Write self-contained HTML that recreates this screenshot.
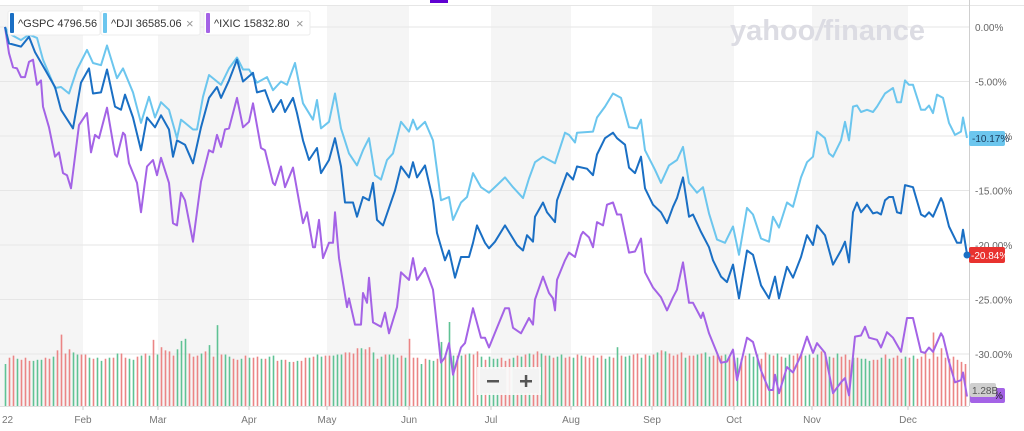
<!DOCTYPE html>
<html><head><meta charset="utf-8"><style>
html,body{margin:0;padding:0;background:#fff;overflow:hidden}
svg{display:block;font-family:"Liberation Sans",sans-serif}
</style></head><body>
<svg id="chart" width="1024" height="431" viewBox="0 0 1024 431" xmlns="http://www.w3.org/2000/svg">
<g id="bands"></g>
<g id="grid"></g>
<text x="730" y="40" font-size="29" font-weight="bold" fill="#dcdce3">yahoo<tspan font-style="italic">/</tspan>finance</text>
<line x1="0" y1="5.5" x2="1024" y2="5.5" stroke="#e6e6e6"/>
<rect x="430" y="0" width="18" height="3" fill="#6001d2"/>
<g id="vol"></g>
<g id="lines"></g>
<line x1="969.5" y1="0" x2="969.5" y2="406" stroke="#cfcfcf"/>
<line x1="0" y1="406.5" x2="969" y2="406.5" stroke="#e0e0e0"/>
<g id="yaxis"></g>
<g id="xaxis"></g>
<g>
 <g>
  <rect x="8" y="11" width="92" height="24" rx="2" fill="#fff" stroke="#ececec"/>
  <rect x="10" y="13" width="4" height="20" rx="1" fill="#1a6fc4"/>
  <text x="18" y="27" font-size="11" fill="#333">^GSPC 4796.56</text>
 </g>
 <g>
  <rect x="101" y="11" width="99" height="24" rx="2" fill="#fff" stroke="#ececec"/>
  <rect x="103" y="13" width="4" height="20" rx="1" fill="#6cc6ee"/>
  <text x="111" y="27" font-size="11" fill="#333">^DJI 36585.06</text>
  <text x="186" y="28" font-size="13" fill="#999">×</text>
 </g>
 <g>
  <rect x="204" y="11" width="106" height="24" rx="2" fill="#fff" stroke="#ececec"/>
  <rect x="206" y="13" width="4" height="20" rx="1" fill="#a463e6"/>
  <text x="214" y="27" font-size="11" fill="#333">^IXIC 15832.80</text>
  <text x="296" y="28" font-size="13" fill="#999">×</text>
 </g>
</g>
<g>
 <rect x="477" y="367" width="64" height="28" fill="#fafafa" opacity="0.9"/>
 <g><rect x="480" y="369" width="26" height="24" fill="#f3f3f3"/><rect x="487" y="380" width="12" height="2.5" fill="#555"/></g>
 <g><rect x="513" y="369" width="26" height="24" fill="#f3f3f3"/><rect x="520" y="380" width="12" height="2.5" fill="#555"/><rect x="524.8" y="375" width="2.5" height="12" fill="#555"/></g>
</g>
<g>
 <rect x="969" y="131" width="36" height="15" rx="2" fill="#6cc6ee"/>
 <text x="972" y="142" font-size="10" fill="#1a3a5a">-10.17%</text>
 <rect x="969" y="247" width="36" height="16" rx="2" fill="#e8322f"/>
 <text x="971" y="259" font-size="10" fill="#fff">-20.84%</text>
 <circle cx="967" cy="255" r="3.5" fill="#1a6fc4"/>
 <rect x="970" y="388" width="35" height="15" rx="2" fill="#a463e6"/>
 <text x="994" y="399" font-size="10" fill="#222">%</text>
 <rect x="970" y="383" width="26" height="14" rx="2" fill="#cfcfcf"/>
 <text x="972" y="394" font-size="10" fill="#555">1.28B</text>
</g>
</svg>
<script>
const gspcDays=[0,1,4,6,7.5,10,12.5,14,17,19,21,22,24,25.5,27.5,29,30,32,34,35.5,37.5,39,41,42,43,45,47,49,51,53,54,56,58,59.5,62,63,65,67,69,70,72,73,74.5,76,78,79,81,82.5,84,85,87,88,89.5,91,92,93,94.5,96,97.5,99,101,102,103,105,107,108,110,111,112.5,114,116,117,118,120,121,122.5,125,128,129.5,130.5,132,132.5,134.5,135.5,137.5,138,140.5,142,143,145.5,147,148,150,152,153,155,156,157.5,159,160,162,164,165.5,167,168,169.5,171,172,174,176,177,179,180.5,182,183.5,185.5,187,189,191,192.5,193.5,195.5,197,199,200.5,202,203,205,207,209,210,211,212,213,214,215.5,217,218,219,220,221,222,223,224,225,227,229,230,231,232,234,234.5,236,238,239,239.5,240.5];
const gspcVals=[0,-1.5,-1.8,-0.9,-2.3,-3.9,-5.5,-7.6,-9.3,-5.1,-3.8,-6.1,-6.0,-3.9,-7.3,-7.6,-6.2,-8.3,-11.3,-8.3,-9.2,-8.1,-9.4,-11.9,-10.4,-10.8,-12.5,-9.2,-6.5,-5.5,-6.5,-4.9,-3.0,-5.0,-4.2,-6.0,-5.8,-7.8,-6.7,-7.8,-6.5,-7.9,-10.4,-12.2,-11.1,-13.4,-12.2,-10.2,-12.8,-16.1,-16.1,-17.4,-15.6,-15.9,-14.3,-17.7,-18.2,-16.6,-15.0,-12.8,-13.8,-12.4,-13.8,-12.7,-15.9,-18.9,-21.4,-20.5,-23.0,-21.1,-21.1,-19.8,-18.2,-19.8,-20.3,-19.7,-18.2,-20.0,-20.5,-19.1,-19.7,-17.4,-16.1,-17.0,-17.9,-15.9,-13.4,-14.0,-12.8,-13.0,-13.6,-11.7,-10.2,-9.7,-10.2,-10.8,-12.9,-13.4,-11.9,-14.8,-16.3,-17.0,-18.0,-16.5,-15.7,-13.8,-17.4,-17.2,-18.8,-20.2,-21.4,-22.9,-23.4,-21.8,-24.9,-20.5,-20.9,-23.7,-24.9,-22.9,-24.9,-22.0,-23.0,-21.1,-19.1,-20.0,-18.2,-19.1,-21.8,-20.5,-19.7,-21.6,-17.0,-16.1,-17.0,-16.3,-17.1,-17.0,-17.2,-15.9,-15.6,-15.6,-17.0,-17.1,-14.5,-14.7,-17.2,-17.4,-17.0,-17.4,-15.7,-16.1,-18.3,-19.8,-19.8,-18.6,-20.84];
const djiDays=[0,1,4,6,8,9.5,12.5,14,16,18,20.5,22,24,25.5,28,29.5,32,34,36,37.5,39,41,43,44,45,47,48,49.5,51,53,54,56,58,59.5,61,63,65.5,67,69,70.5,72.5,74.5,77,78,79,81,82.5,84,86,88,89.5,91,92.5,94,95.5,97,99,101,102,103,105,107,109,111,112,114,115.5,117,119,121,123,125,127,129.5,131,132.5,134.5,137.5,140,141,142.5,143,147,148,150,152,154,156,158,159,160,162.5,164,166,168,169.5,171,173,174.5,176,178,180,182,183.5,185.5,187,189,191,192,193.5,195.5,197,199,200.5,202,203,205,206,207,209,210,211,212,213,214,215.5,217,218,220,222,223,224,225,226,227,229,230,231,232,233,234.5,236,237.5,239,239.5,240.5];
const djiVals=[0,-0.6,-1.2,-0.7,-1.0,-3.0,-5.6,-5.5,-6.1,-3.9,-2.1,-3.3,-3.5,-1.7,-4.7,-3.8,-6.0,-8.8,-6.4,-8.3,-6.9,-7.6,-10.2,-8.5,-8.8,-9.4,-9.4,-6.4,-4.4,-5.0,-5.3,-3.8,-2.8,-3.9,-3.9,-5.1,-4.6,-5.8,-5.0,-5.3,-3.3,-7.0,-8.5,-6.7,-9.3,-8.7,-6.1,-9.3,-11.6,-12.7,-11.3,-10.2,-13.6,-14.0,-12.2,-11.6,-8.7,-9.6,-8.5,-9.4,-8.7,-10.4,-15.9,-15.6,-17.7,-16.1,-15.6,-13.4,-14.7,-15.2,-14.5,-13.8,-14.7,-15.7,-13.9,-12.4,-11.9,-12.5,-9.7,-9.9,-10.6,-9.7,-9.6,-8.3,-7.3,-6.1,-6.5,-9.2,-9.3,-8.5,-11.3,-13.1,-14.3,-12.7,-12.2,-11.0,-14.3,-15.2,-14.7,-17.1,-19.5,-19.8,-18.3,-20.9,-16.6,-17.2,-19.4,-19.7,-17.4,-18.4,-16.1,-16.5,-13.8,-12.4,-11.9,-9.6,-10.2,-11.6,-11.9,-10.4,-8.7,-10.4,-7.3,-7.2,-7.8,-7.6,-7.8,-7.3,-6.1,-5.6,-6.9,-6.9,-4.9,-5.3,-5.3,-7.6,-7.6,-7.2,-7.9,-6.2,-6.5,-8.8,-9.9,-9.6,-8.3,-10.17];
const ixicDays=[0,1,2,3,4,5,6,7,8,9,9.5,11,12.5,13.5,14.5,15.5,16.5,18.5,20.5,21.5,22.5,23.5,25.5,27.5,28,29.5,30,31,33,34,35.5,37,38,39,41,42,43,44,45,47,49,51,52,53,54,55,56,58,59.5,61,62,64,65,67,67.5,69,70,72,74.5,75.5,77,77.5,78.5,79.5,81,82,82.5,83.5,85.5,86,87.5,89,89.5,90.5,91,92,94,95,96,98,99,101,102,103,105,107,109,110,111,112,114,115,117,119,120,121,123,125,126,127,129,131,132,132.5,134.5,136,137,137.5,138,140,141,142.5,144,144.5,146,147,148,149.5,150.5,152,153,154,156,157.5,159,160,162,164,165.5,167,168,169.5,171,172,174,174.5,176,179,180.5,182,183,185.5,187,189,191,192,192.5,193.5,195.5,197,199,200.5,202,203,205,207,209,210,211,212.5,214,215,216,218,219,220.5,222,224,225.5,227,229,230,231,232,234,234.5,236,237.5,239,239.5,240.5];
const ixicVals=[0,-2.4,-3.7,-3.8,-4.6,-4.6,-3.2,-3.0,-5.3,-4.9,-7.3,-9.2,-11.9,-11.5,-13.4,-13.6,-14.8,-9.0,-7.9,-11.5,-9.9,-10.2,-7.4,-11.7,-11.9,-9.7,-9.9,-12.5,-14.3,-17.0,-12.8,-12.2,-13.6,-12.0,-14.3,-18.0,-18.2,-15.2,-15.9,-19.7,-14.2,-11.3,-11.5,-9.9,-11.0,-9.4,-9.3,-6.5,-9.2,-8.7,-7.0,-11.1,-11.3,-14.3,-14.5,-12.8,-14.7,-12.9,-18.0,-17.0,-20.2,-20.2,-17.7,-21.2,-19.8,-19.8,-17.0,-21.2,-25.7,-24.9,-27.3,-27.3,-24.4,-25.3,-23.0,-27.1,-27.5,-26.2,-28.1,-25.7,-22.5,-23.2,-21.2,-23.2,-22.1,-24.1,-30.8,-30.3,-29.0,-31.9,-29.4,-29.0,-25.8,-28.5,-28.5,-29.4,-27.6,-25.8,-25.8,-27.6,-28.1,-26.7,-27.3,-25.0,-22.9,-24.4,-24.9,-26.0,-23.2,-21.4,-20.7,-21.1,-19.1,-18.8,-19.3,-20.2,-17.9,-18.2,-16.3,-16.1,-17.2,-17.2,-20.7,-20.6,-19.4,-22.5,-23.9,-24.8,-26.0,-24.8,-24.1,-21.6,-25.3,-25.3,-26.7,-26.2,-28.1,-30.8,-30.7,-29.6,-32.4,-28.5,-28.9,-31.5,-33.3,-33.3,-31.9,-33.6,-31.2,-31.7,-30.1,-28.4,-29.9,-29.0,-29.9,-33.6,-32.6,-32.2,-33.8,-28.4,-28.3,-27.5,-28.5,-28.7,-29.4,-28.0,-28.5,-29.8,-26.7,-26.7,-29.8,-29.9,-29.4,-29.8,-28.1,-28.4,-30.7,-32.6,-32.4,-31.7,-33.9];
const volumes=[4.0,4.6,4.8,4.5,4.4,4.6,4.3,4.3,4.4,4.4,4.6,4.5,4.7,5.3,6.8,5.0,5.4,5.1,4.9,4.9,
4.9,4.6,4.5,4.6,4.3,4.5,4.6,4.6,5.0,5.0,4.6,4.5,4.4,4.7,4.8,5.0,4.8,6.3,4.9,5.6,
5.3,5.2,4.8,5.4,6.2,6.4,5.0,4.7,4.8,5.0,5.2,5.8,4.7,7.7,4.9,4.9,4.7,4.5,4.4,4.5,
4.8,4.6,4.6,4.7,4.5,4.5,4.7,4.8,4.3,4.4,4.4,4.2,4.2,4.3,4.3,4.6,4.6,4.7,4.9,4.7,
4.8,4.8,4.8,4.9,4.9,5.1,5.1,5.0,5.5,5.5,5.4,5.6,5.1,4.5,4.7,4.9,4.9,4.9,4.6,4.8,
4.6,6.4,4.6,4.6,4.0,4.5,4.4,4.3,4.5,6.1,4.8,8.0,4.8,4.8,4.8,4.9,5.0,4.9,5.2,4.7,
4.4,4.7,4.5,4.5,4.6,4.3,4.5,4.6,4.8,4.7,4.9,5.0,4.9,5.2,5.0,4.8,4.8,4.6,4.7,4.9,
4.6,4.7,4.6,4.9,4.8,4.7,4.6,4.8,4.6,4.8,4.5,4.7,4.6,5.6,4.8,4.7,4.8,4.9,5.0,4.6,
4.9,4.8,4.9,5.1,5.3,5.2,5.0,4.8,4.9,5.1,4.6,4.8,4.8,4.9,5.0,5.1,4.7,4.8,5.0,4.8,
4.9,4.7,4.8,4.6,4.5,4.8,5.0,4.7,4.9,4.5,5.1,4.9,4.8,5.0,4.7,4.6,4.9,4.8,5.0,5.1,
4.8,4.9,4.6,4.9,5.2,4.8,4.7,4.6,5.0,4.7,4.9,4.4,4.6,4.6,4.5,4.5,4.3,4.4,4.4,4.6,
4.9,4.5,4.6,4.8,4.5,4.7,4.6,4.8,4.5,4.7,5.1,4.5,7.0,4.7,5.5,4.6,4.5,4.7,4.4,4.2,4.0];
const volDir="gddgdddgggddgddddggddgdggdgdgddggdgdgdgddddgggdddgdgdgdggddgdgddgdggdgdgdgddgdggddgggddddgddgdgdgggdgdddgdggdgdggdgdgddgdgggdddgdgdgddgdgdggddgdgdddgdggdgdggddgdgdgdgddddgddgdggdddgddgddgggddgdgdggdddggdgddgdgdddgdgggddgdgdddgdg";
const yTicks=[0,-5,-10,-15,-20,-25,-30];
const monthLabels=["22","Feb","Mar","Apr","May","Jun","Jul","Aug","Sep","Oct","Nov","Dec"];
const monthStarts=[0,19.5,38.25,61,80.5,101,121.5,141.5,161.75,182.25,201.75,225.75];

const NS="http://www.w3.org/2000/svg";
const X0=5, XPX=4, Y0=27, YPX=10.9;
function xs(d){return X0+d*XPX;}
function ys(p){return Y0-p*YPX;}
function mk(tag,attrs,parent){const e=document.createElementNS(NS,tag);for(const k in attrs)e.setAttribute(k,attrs[k]);parent.appendChild(e);return e;}

const bands=document.getElementById('bands');
for(let i=0;i<monthStarts.length;i++){
  const a=i===0?0:xs(monthStarts[i]);
  const b=i+1<monthStarts.length?xs(monthStarts[i+1]):969;
  if(i%2===0){
    const r=mk('rect',{x:a,y:6,width:b-a,height:400,fill:'#f5f5f5'},bands);
    
    
  }
}
const grid=document.getElementById('grid'), yaxis=document.getElementById('yaxis');
yTicks.forEach(t=>{
  const y=ys(t);
  const l=mk('line',{x1:0,x2:969,y1:y,y2:y,stroke:'#e6e6e6'},grid);
  
  
  const tx=mk('text',{x:975,y:y+4,'font-size':10,fill:'#666'},yaxis);
  tx.textContent=t.toFixed(2)+'%';
  
  
});
const xaxis=document.getElementById('xaxis');
monthLabels.forEach((m,i)=>{
  const x=xs(monthStarts[i]);
  if(i>0){const tk=mk('line',{x1:x,x2:x,y1:406,y2:410,stroke:'#ccc'},xaxis);
    
    }
  const tx=mk('text',{x:i===0?2:x,y:423,'font-size':10,fill:'#777','text-anchor':i===0?'start':'middle'},xaxis);
  tx.textContent=m;
  
  
});
const vol=document.getElementById('vol');
volumes.forEach((v,i)=>{
  const x=xs(i)+0.5, h=v*10.5;
  const b=mk('rect',{x:x-0.8,y:406-h,width:1.6,height:h,fill:volDir[i]==='g'?'#5fc294':'#eb8585'},vol);
  
  
});
const lines=document.getElementById('lines');
function drawLine(days,vals,color,name){
  const pts=days.map((d,i)=>xs(d).toFixed(1)+','+ys(vals[i]).toFixed(1)).join(' ');
  const p=mk('polyline',{points:pts,fill:'none',stroke:color,'stroke-width':2,'stroke-linejoin':'round'},lines);
  
  
}
drawLine(djiDays,djiVals,'#6cc6ee','dji-line');
drawLine(ixicDays,ixicVals,'#a463e6','ixic-line');
drawLine(gspcDays,gspcVals,'#1a6fc4','gspc-line');
</script>
</body></html>
